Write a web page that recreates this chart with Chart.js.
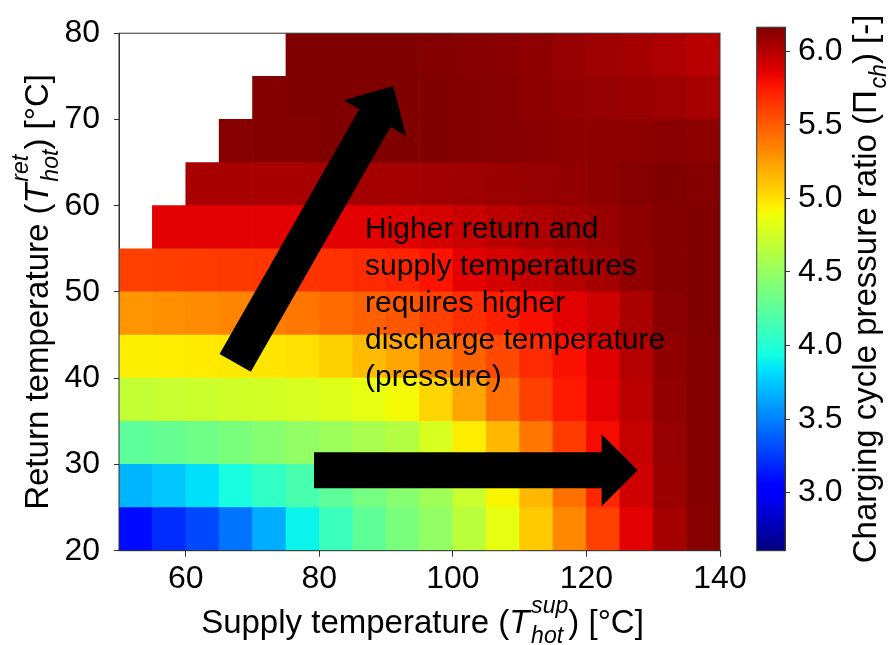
<!DOCTYPE html>
<html><head><meta charset="utf-8">
<script src="https://cdn.jsdelivr.net/npm/chart.js@4.4.1/dist/chart.umd.min.js"></script>
<style>
html,body{margin:0;padding:0;background:#fff;}
#wrap{position:relative;width:895px;height:645px;}
canvas{position:absolute;left:0;top:0;}
</style></head><body>
<div id="wrap"><canvas id="main" width="895" height="645"></canvas><canvas id="cbar" width="895" height="645"></canvas></div>
<script>
// ---- data ----
const supplyCenters = [52.5,57.5,62.5,67.5,72.5,77.5,82.5,87.5,92.5,97.5,102.5,107.5,112.5,117.5,122.5,127.5,132.5,137.5];
const returnCenters = [22.5,27.5,32.5,37.5,42.5,47.5,52.5,57.5,62.5,67.5,72.5,77.5];
const pr_r22_5 = [3.08,3.20,3.30,3.45,3.65,3.90,4.10,4.26,4.38,4.48,4.66,4.85,5.08,5.33,5.60,5.86,6.05,6.14];
const pr_r27_5 = [3.68,3.74,3.83,3.95,4.06,4.16,4.25,4.35,4.43,4.54,4.72,4.92,5.15,5.42,5.70,5.92,6.08,6.15];
const pr_r32_5 = [4.25,4.29,4.33,4.38,4.43,4.48,4.53,4.58,4.63,4.78,4.95,5.15,5.40,5.62,5.80,5.95,6.09,6.15];
const pr_r37_5 = [4.69,4.71,4.73,4.75,4.76,4.78,4.81,4.85,4.90,5.04,5.22,5.42,5.60,5.75,5.85,5.98,6.10,6.15];
const pr_r42_5 = [4.94,4.95,4.96,4.97,4.98,5.00,5.06,5.14,5.22,5.36,5.47,5.57,5.68,5.78,5.87,6.00,6.11,6.15];
const pr_r47_5 = [5.28,5.30,5.32,5.34,5.37,5.40,5.44,5.48,5.52,5.60,5.67,5.73,5.79,5.86,5.92,6.03,6.13,6.16];
const pr_r52_5 = [5.60,5.61,5.62,5.63,5.64,5.65,5.66,5.68,5.71,5.77,5.85,5.90,5.95,6.00,6.05,6.11,6.15,6.16];
const pr_r57_5 = [null,5.86,5.86,5.86,5.86,5.86,5.86,5.86,5.87,5.90,5.94,5.98,6.02,6.05,6.08,6.12,6.15,6.16];
const pr_r62_5 = [null,null,6.04,6.04,6.04,6.04,6.05,6.05,6.05,6.06,6.07,6.08,6.09,6.10,6.12,6.14,6.16,6.15];
const pr_r67_5 = [null,null,null,6.14,6.15,6.15,6.16,6.16,6.16,6.16,6.15,6.14,6.13,6.12,6.12,6.12,6.13,6.12];
const pr_r72_5 = [null,null,null,null,6.15,6.16,6.16,6.16,6.16,6.16,6.15,6.14,6.12,6.10,6.09,6.08,6.07,6.04];
const pr_r77_5 = [null,null,null,null,null,6.16,6.16,6.16,6.16,6.15,6.14,6.13,6.11,6.09,6.07,6.05,6.02,5.99];
const pressureRatio = [pr_r22_5,pr_r27_5,pr_r32_5,pr_r37_5,pr_r42_5,pr_r47_5,pr_r52_5,pr_r57_5,pr_r62_5,pr_r67_5,pr_r72_5,pr_r77_5];

const xTicks = [60,80,100,120,140];
const yTicks = [20,30,40,50,60,70,80];
const cbTicks = [3.0,3.5,4.0,4.5,5.0,5.5,6.0];
const cbMin = 2.605, cbMax = 6.163;

const annotationLines = ["Higher return and","supply temperatures","requires higher","discharge temperature","(pressure)"];
const textAnchor = [86.84, 56.26];          // data coords of first line (left, baseline)
const arrowUp = {from:[67.40,41.78], to:[91.07,73.88]};
const arrowRight = {from:[79.20,29.33], to:[127.67,29.33]};

// ---- styling ----
const FAM = '"Liberation Sans", Arial, Helvetica, sans-serif';
const frameColor = '#333';

const JR=[[0,0],[0.35,0],[0.66,1],[0.89,1],[1,0.5]];
const JG=[[0,0],[0.125,0],[0.375,1],[0.64,1],[0.91,0],[1,0]];
const JB=[[0,0.5],[0.11,1],[0.34,1],[0.65,0],[1,0]];
function interp(p,t){for(let i=1;i<p.length;i++){if(t<=p[i][0]){const a=p[i-1],b=p[i];return a[1]+(b[1]-a[1])*(t-a[0])/(b[0]-a[0]);}}return p[p.length-1][1];}
function jetT(t){t=Math.max(0,Math.min(1,t));return `rgb(${Math.round(255*interp(JR,t))},${Math.round(255*interp(JG,t))},${Math.round(255*interp(JB,t))})`;}
function jet(v){return jetT((v-cbMin)/(cbMax-cbMin));}

const halfX = (supplyCenters[1]-supplyCenters[0])/2;
const halfY = (returnCenters[1]-returnCenters[0])/2;

const datasets = returnCenters.map((rc,i)=>{
  const pts=[], cols=[];
  supplyCenters.forEach((sc,j)=>{
    const v = pressureRatio[i][j];
    if (v===null) return;
    pts.push({x:sc, y:[rc-halfY, rc+halfY], v});
    cols.push(jet(v));
  });
  return {data:pts, backgroundColor:cols, borderWidth:0, grouped:false, barPercentage:1, categoryPercentage:1};
});

function partsWidth(ctx, parts, F){
  let w=0;
  for(const p of parts){
    if(typeof p==='string'){ctx.font=`${F}px ${FAM}`;w+=ctx.measureText(p).width;}
    else if(p.it){ctx.font=`italic ${F}px ${FAM}`;w+=ctx.measureText(p.it).width;}
    else if(p.up){ctx.font=`${F}px ${FAM}`;w+=ctx.measureText(p.up).width;}
    else {ctx.font=`italic ${F*0.7}px ${FAM}`;w+=Math.max(p.sup?ctx.measureText(p.sup).width:0,p.sub?ctx.measureText(p.sub).width:0)+F*0.05;}
  }
  return w;
}
function drawRich(ctx, parts, cx, by, rot, F){
  ctx.save();
  ctx.translate(cx,by); ctx.rotate(rot);
  ctx.fillStyle='#000'; ctx.textAlign='left'; ctx.textBaseline='alphabetic';
  let x = -partsWidth(ctx,parts,F)/2;
  for(const p of parts){
    if(typeof p==='string'){ctx.font=`${F}px ${FAM}`;ctx.fillText(p,x,0);x+=ctx.measureText(p).width;}
    else if(p.it){ctx.font=`italic ${F}px ${FAM}`;ctx.fillText(p.it,x,0);x+=ctx.measureText(p.it).width;}
    else if(p.up){ctx.font=`${F}px ${FAM}`;ctx.fillText(p.up,x,0);x+=ctx.measureText(p.up).width;}
    else {
      ctx.font=`italic ${F*0.7}px ${FAM}`;
      const xx = x + F*0.05;
      let w=0;
      if(p.sup){ctx.fillText(p.sup,xx,-F*0.62);w=Math.max(w,ctx.measureText(p.sup).width);}
      if(p.sub){ctx.fillText(p.sub,xx,F*0.3);w=Math.max(w,ctx.measureText(p.sub).width);}
      x = xx + w;
    }
  }
  ctx.restore();
}

function drawArrow(ctx, x0,y0,x1,y1, w, hw, hl){
  const dx=x1-x0, dy=y1-y0, L=Math.hypot(dx,dy);
  const ux=dx/L, uy=dy/L, nx=-uy, ny=ux;
  const bx=x1-ux*hl, by=y1-uy*hl;
  ctx.beginPath();
  ctx.moveTo(x0+nx*w/2, y0+ny*w/2);
  ctx.lineTo(bx+nx*w/2, by+ny*w/2);
  ctx.lineTo(bx+nx*hw/2, by+ny*hw/2);
  ctx.lineTo(x1, y1);
  ctx.lineTo(bx-nx*hw/2, by-ny*hw/2);
  ctx.lineTo(bx-nx*w/2, by-ny*w/2);
  ctx.lineTo(x0-nx*w/2, y0-ny*w/2);
  ctx.closePath();
  ctx.fillStyle='#000';
  ctx.fill();
}

const xTitle = ["Supply temperature (",{it:"T"},{sup:"sup",sub:"hot"},") [°C]"];
const yTitle = ["Return temperature (",{it:"T"},{sup:"ret",sub:"hot"},") [°C]"];
const cbTitle = ["Charging cycle pressure ratio (",{up:"Π"},{sub:"ch"},") [-]"];

const overlay = {
  id:'overlay',
  afterDatasetsDraw(chart){
    const {ctx, scales:{x,y}} = chart;
    ctx.save();
    drawArrow(ctx, x.getPixelForValue(arrowUp.from[0]), y.getPixelForValue(arrowUp.from[1]),
              x.getPixelForValue(arrowUp.to[0]), y.getPixelForValue(arrowUp.to[1]), 36, 72, 37);
    drawArrow(ctx, x.getPixelForValue(arrowRight.from[0]), y.getPixelForValue(arrowRight.from[1]),
              x.getPixelForValue(arrowRight.to[0]), y.getPixelForValue(arrowRight.to[1]), 36, 72, 36);
    ctx.font = `30px ${FAM}`; ctx.fillStyle='#000'; ctx.textAlign='left'; ctx.textBaseline='alphabetic';
    const tx = x.getPixelForValue(textAnchor[0]), ty = y.getPixelForValue(textAnchor[1]);
    annotationLines.forEach((l,i)=>ctx.fillText(l, tx, ty+i*37));
    ctx.restore();
  },
  afterDraw(chart){
    const {ctx, chartArea:a} = chart;
    ctx.save();
    ctx.strokeStyle=frameColor; ctx.lineWidth=1;
    ctx.strokeRect(a.left, a.top, a.right-a.left, a.bottom-a.top);
    ctx.restore();
    drawRich(ctx, xTitle, (a.left+a.right)/2+3, 633, 0, 33);
    drawRich(ctx, yTitle, 48, (a.top+a.bottom)/2, -Math.PI/2, 33);
  }
};

new Chart(document.getElementById('main'), {
  type:'bar',
  data:{datasets},
  options:{
    responsive:false, animation:false, events:[],
    layout:{padding:{left:0, top:21.7, right:175, bottom:0}},
    plugins:{legend:{display:false}, tooltip:{enabled:false}},
    scales:{
      x:{type:'linear', min:50, max:140, offset:false,
         afterBuildTicks:s=>{s.ticks=xTicks.map(v=>({value:v}));},
         afterFit:s=>{s.height=94.3;},
         ticks:{color:'#000', font:{family:FAM, size:32}, padding:3, maxRotation:0, autoSkip:false},
         grid:{display:true, offset:false, drawOnChartArea:false, drawTicks:true, tickLength:6, color:frameColor, tickColor:frameColor},
         border:{display:true, color:frameColor, width:1}},
      y:{type:'linear', min:20, max:80, beginAtZero:false,
         afterBuildTicks:s=>{s.ticks=yTicks.map(v=>({value:v}));},
         afterFit:s=>{s.width=119;},
         ticks:{color:'#000', font:{family:FAM, size:32}, padding:14, autoSkip:false},
         grid:{display:true, drawOnChartArea:false, drawTicks:true, tickLength:5, color:frameColor, tickColor:frameColor},
         border:{display:true, color:frameColor, width:1}}
    }
  },
  plugins:[overlay]
});

// ---- colorbar ----
const cbOverlay = {
  id:'cbOverlay',
  afterDraw(chart){
    const {ctx, chartArea:a} = chart;
    ctx.save();
    ctx.strokeStyle=frameColor; ctx.lineWidth=1;
    ctx.strokeRect(a.left, a.top, a.right-a.left, a.bottom-a.top);
    ctx.restore();
    drawRich(ctx, cbTitle, 876, (a.top+a.bottom)/2, -Math.PI/2, 33);
  }
};
new Chart(document.getElementById('cbar'), {
  type:'bar',
  data:{labels:[''], datasets:[{
    data:[[cbMin, cbMax]], borderWidth:0, barPercentage:1, categoryPercentage:1,
    backgroundColor:(c)=>{
      const ch=c.chart, y=ch.scales.y;
      if(!ch.chartArea || !y) return '#888';
      const g=ch.ctx.createLinearGradient(0, y.getPixelForValue(cbMin), 0, y.getPixelForValue(cbMax));
      for(let i=0;i<=64;i++){g.addColorStop(i/64, jetT(i/64));}
      return g;
    }
  }]},
  options:{
    responsive:false, animation:false, events:[],
    layout:{padding:{left:756.7, top:21.7, right:0, bottom:94.3}},
    plugins:{legend:{display:false}, tooltip:{enabled:false}},
    scales:{
      x:{display:false},
      y:{type:'linear', position:'right', min:cbMin, max:cbMax, beginAtZero:false,
         afterBuildTicks:s=>{s.ticks=cbTicks.map(v=>({value:v}));},
         afterFit:s=>{s.width=110;},
         ticks:{color:'#000', font:{family:FAM, size:32}, padding:8, callback:v=>v.toFixed(1)},
         grid:{display:true, drawOnChartArea:false, drawTicks:true, tickLength:5, color:frameColor, tickColor:frameColor},
         border:{display:true, color:frameColor, width:1}}
    }
  },
  plugins:[cbOverlay]
});
</script>
</body></html>
